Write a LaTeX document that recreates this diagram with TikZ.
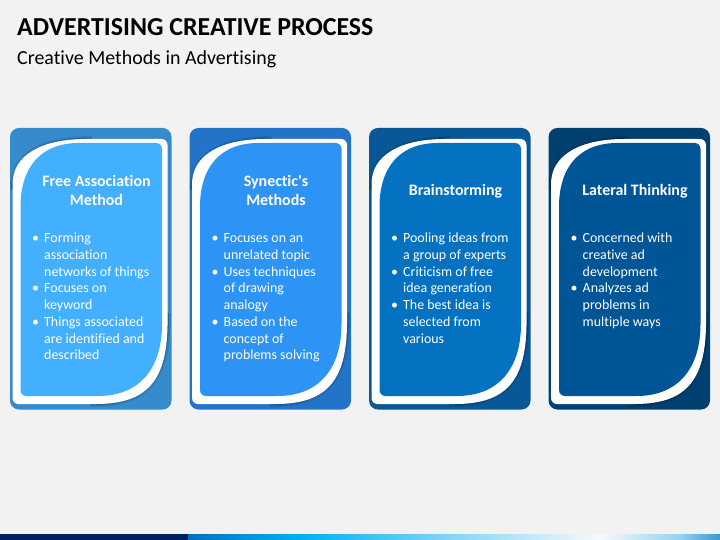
\documentclass[tikz,border=0pt]{standalone}
\usepackage{fontspec}
\setmainfont{Carlito}[Ligatures=CommonOff]
\definecolor{bg}{HTML}{F2F2F2}
\definecolor{outerA}{HTML}{358BCB}
\definecolor{innerA}{HTML}{42AFFF}
\definecolor{outerB}{HTML}{2374C8}
\definecolor{innerB}{HTML}{2D94F5}
\definecolor{outerC}{HTML}{085898}
\definecolor{innerC}{HTML}{0472C1}
\definecolor{outerD}{HTML}{004070}
\definecolor{innerD}{HTML}{005596}
\definecolor{barnavy}{HTML}{002060}
\definecolor{barA}{RGB}{0,112,192}
\definecolor{barB}{RGB}{0,176,240}
\definecolor{barC}{RGB}{140,215,245}
\definecolor{barD}{RGB}{245,250,252}
\definecolor{barE}{RGB}{150,210,240}
\definecolor{barF}{RGB}{60,150,210}
\pgfdeclarehorizontalshading{barshade}{100bp}{color(0bp)=(barA); color(25bp)=(barA);
  color(35.5bp)=(barB); color(50.5bp)=(barC); color(63.7bp)=(barD);
  color(71.2bp)=(barE); color(75bp)=(barF); color(100bp)=(barF)}
% karte: #1 links, #2 rand, #3 innen
\newcommand\cardbox[3]{%
  \begin{scope}[shift={(#1,128)}]
    \fill[#2, rounded corners=9pt] (0,0) rectangle (161.5,281.5);
    \begin{scope}
      \clip[rounded corners=9pt] (0,0) rectangle (161.5,281.5);
      \draw[shadeA] (2.5,62) .. controls (2.5,28) and (30,11) .. (82,11);
      \draw[shadeB] (2.5,62) .. controls (2.5,28) and (30,11) .. (82,11);
      \draw[shadeA] (157.5,185) .. controls (158,250) and (140,276) .. (80,276);
      \draw[shadeB] (157.5,185) .. controls (158,250) and (140,276) .. (80,276);
    \end{scope}
    \fill[white, rounded corners=6pt] (2.5,62) .. controls (2.5,28) and (30,11) .. (82,11)
      -- (157.5,11) -- (157.5,185) .. controls (158,250) and (140,276) .. (80,276)
      -- (2.5,276) -- cycle;
    \fill[#3, rounded corners=6pt] (10.5,85) .. controls (10.5,40) and (30,15) .. (75,15)
      -- (152,15) -- (152,190) .. controls (152,240) and (130,268) .. (82,268)
      -- (10.5,268) -- cycle;
  \end{scope}}
\begin{document}
\begin{tikzpicture}[x=1bp, y=-1bp,
  heading/.style={anchor=base, inner sep=0pt, text=white, font=\fontsize{16}{18.5}\selectfont\bfseries},
  points/.style={anchor=base west, inner sep=0pt, text=white, font=\fontsize{14}{16.8}\selectfont},
  shadeA/.style={line width=6pt, black, opacity=.10},
  shadeB/.style={line width=3pt, black, opacity=.18}]
	\fill[bg] (0,0) rectangle (720,540);
	\node[anchor=base west, inner sep=0pt, font=\fontsize{26}{30}\selectfont\bfseries] (title) at (17,36) {ADVERTISING CREATIVE PROCESS};
	\node[anchor=base west, inner sep=0pt, font=\fontsize{20}{24}\selectfont] (sub) at (17,65) {Creative Methods in Advertising};
	\cardbox{10}{outerA}{innerA}
	\cardbox{189.5}{outerB}{innerB}
	\cardbox{369}{outerC}{innerC}
	\cardbox{548.5}{outerD}{innerD}
	\node[heading] (h1) at (96.5,186.7)  {\begin{tabular}[t]{@{}c@{}}Free Association\\Method\end{tabular}};
	\node[heading] (h2) at (276,186.7)   {\begin{tabular}[t]{@{}c@{}}Synectic\textquotesingle s\\Methods\end{tabular}};
	\node[heading] (h3) at (455.5,196)   {Brainstorming};
	\node[heading] (h4) at (635,196)     {Lateral Thinking};
	\node[points] (b1) at (32,242.7)    {\begin{tabular}[t]{@{}p{12bp}@{}l@{}}
		\textbullet & Forming\\ & association\\ & networks of things\\
		\textbullet & Focuses on\\ & keyword\\
		\textbullet & Things associated\\ & are identified and\\ & described\end{tabular}};
	\node[points] (b2) at (211.5,242.7) {\begin{tabular}[t]{@{}p{12bp}@{}l@{}}
		\textbullet & Focuses on an\\ & unrelated topic\\
		\textbullet & Uses techniques\\ & of drawing\\ & analogy\\
		\textbullet & Based on the\\ & concept of\\ & problems solving\end{tabular}};
	\node[points] (b3) at (391,242.7)   {\begin{tabular}[t]{@{}p{12bp}@{}l@{}}
		\textbullet & Pooling ideas from\\ & a group of experts\\
		\textbullet & Criticism of free\\ & idea generation\\
		\textbullet & The best idea is\\ & selected from\\ & various\end{tabular}};
	\node[points] (b4) at (570.5,242.7) {\begin{tabular}[t]{@{}p{12bp}@{}l@{}}
		\textbullet & Concerned with\\ & creative ad\\ & development\\
		\textbullet & Analyzes ad\\ & problems in\\ & multiple ways\end{tabular}};
	%leiste unten
	\fill[barnavy] (0,534) rectangle (188,540);
	\shade[shading=barshade] (188,534) rectangle (720,540);
\end{tikzpicture}
\end{document}
